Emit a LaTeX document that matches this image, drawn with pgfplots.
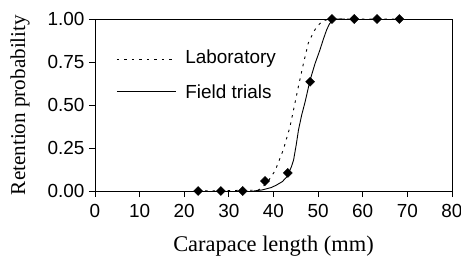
\documentclass[border=0pt]{standalone}
\usepackage{fontspec}
\setmainfont{Liberation Sans}
\newfontfamily\seriffont{Liberation Serif}
\usepackage{pgfplots}
\pgfplotsset{compat=1.18}
\begin{document}
\begin{tikzpicture}
\begin{axis}[
  name=ax,
  scale only axis,
  width=357bp, height=172bp,
  xmin=0, xmax=80, ymin=0, ymax=1,
  xtick={0,10,...,80},
  ytick={0,0.25,0.5,0.75,1},
  yticklabels={0.00,0.25,0.50,0.75,1.00},
  xtick pos=left, ytick pos=left,
  tick align=outside,
  major tick length=6bp,
  axis line style={line width=0.9bp},
  every tick/.style={black, line width=0.9bp},
  /pgf/number format/assume math mode=true,
  tick label style={font=\fontsize{19}{22}\selectfont},
  xticklabel style={yshift=-3.5bp},
  yticklabel style={xshift=-1bp},
  xlabel={Carapace length (mm)},
  ylabel={Retention probability},
  xlabel style={font=\seriffont\fontsize{22.5}{26}\selectfont, at={(axis description cs:0.5,0)}, anchor=base, yshift=-60bp},
  ylabel style={font=\seriffont\fontsize{21.2}{24}\selectfont, at={(axis description cs:0,0.5)}, anchor=center, yshift=75bp},
  clip=false,
]
% Laboratory (dotted)
\addplot[black, line width=0.9bp, dash pattern=on 2.5bp off 5bp] coordinates {
 (23,0) (36.6,0.005) (38.5,0.045) (40.4,0.12) (42.2,0.24) (43.7,0.374)
 (44.8,0.51) (45.6,0.61) (46.7,0.74) (47.8,0.86) (49.0,0.925) (49.7,0.955)
 (51,0.988) (52.5,1.0) (68,1.0)};
% Field trials (solid)
\addplot[black, line width=0.9bp] coordinates {
 (35.5,0) (37.4,0.006) (39.5,0.02) (40.7,0.035) (42,0.055) (43,0.083) (44,0.14)
 (44.5,0.18) (45.1,0.27) (45.6,0.355) (46.3,0.44) (47.1,0.52) (48.2,0.645)
 (49.3,0.74) (50.4,0.82) (51.2,0.885) (51.9,0.936) (52.5,0.97) (53.1,0.99)
 (54,1.0) (56,1.0)};
% Observed data
\addplot[only marks, mark=square*, mark size=3.2bp, mark options={rotate=45, fill=black, draw=black}] coordinates {
 (23.1,0) (28.2,0) (33.1,0) (38.1,0.058) (43.2,0.105) (48.2,0.635)
 (53.1,1) (58.1,1) (63.2,1) (68.2,1)};
% Legend
\addplot[black, line width=0.9bp, dash pattern=on 2.5bp off 5bp] coordinates {(4.9,0.767) (18.1,0.767)};
\addplot[black, line width=0.9bp] coordinates {(4.9,0.576) (18.1,0.576)};
\node[anchor=west, inner sep=0pt, font=\fontsize{19}{22}\selectfont] at (axis cs:20.2,0.767) {Laboratory};
\node[anchor=west, inner sep=0pt, font=\fontsize{19}{22}\selectfont] at (axis cs:20.2,0.576) {Field trials};
\end{axis}
\pgfresetboundingbox
\path ([xshift=-95bp,yshift=-69bp]ax.south west) rectangle ([xshift=9bp,yshift=19bp]ax.north east);
\end{tikzpicture}
\end{document}
